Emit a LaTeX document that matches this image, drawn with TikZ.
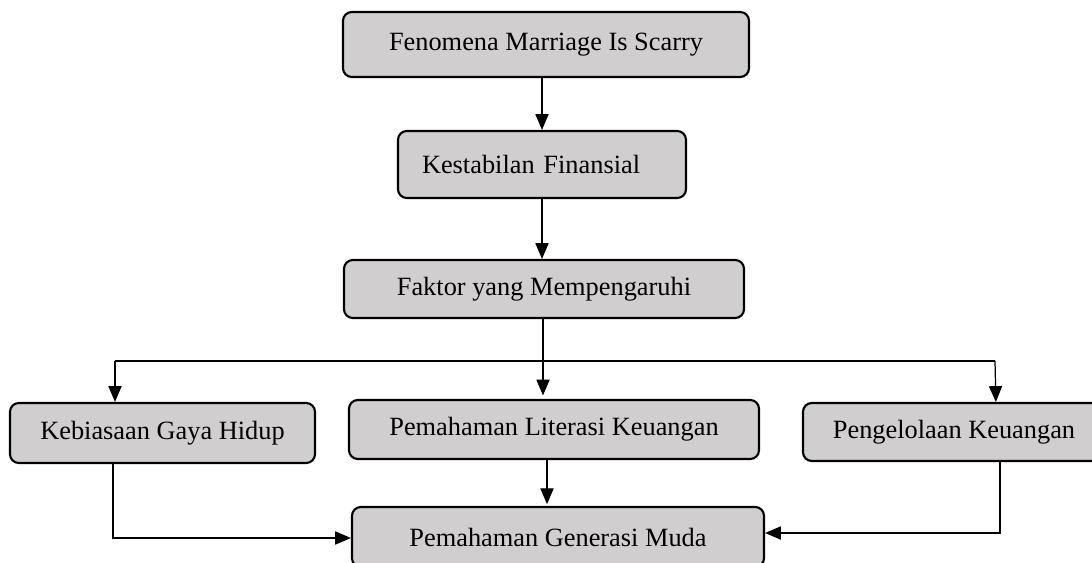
\documentclass[tikz,border=0pt]{standalone}
\usepackage{fontspec}
\setmainfont{Liberation Serif}
\usetikzlibrary{arrows.meta}
\definecolor{boxfill}{RGB}{208,206,207}
\tikzset{
  box/.style={draw=black, line width=1.2pt, fill=boxfill, rounded corners=5pt,
    font=\fontsize{15}{18}\selectfont, inner sep=0pt, anchor=center},
  conn/.style={line width=0.7pt, draw=black},
  arr/.style={conn, -{Triangle[length=9pt,width=7.5pt]}}
}
\begin{document}
\begin{tikzpicture}[x=0.02cm,y=-0.02cm]
\useasboundingbox (0,0) rectangle (1092,563);
\clip (0,0) rectangle (1092,563);
\node[box, minimum width={406*0.02cm}, minimum height={65*0.02cm}] (b1) at (546,44.5) {Fenomena Marriage Is Scarry};
\node[box, minimum width={288*0.02cm}, minimum height={67*0.02cm}, text width={240*0.02cm}, align=left] (b2) at (542,164.5) {Kestabilan Finansial};
\node[box, minimum width={400*0.02cm}, minimum height={58*0.02cm}] (b3) at (544,289) {Faktor yang Mempengaruhi};
\node[box, minimum width={305*0.02cm}, minimum height={60*0.02cm}] (k) at (162.5,433) {Kebiasaan Gaya Hidup};
\node[box, minimum width={410*0.02cm}, minimum height={59*0.02cm}] (l) at (554,429.5) {Pemahaman Literasi Keuangan};
\node[box, minimum width={302*0.02cm}, minimum height={58*0.02cm}] (p) at (954,432) {Pengelolaan Keuangan};
\node[box, minimum width={412*0.02cm}, minimum height={60*0.02cm}] (g) at (558,537) {Pemahaman Generasi Muda};

\coordinate (j) at (543,361);
\coordinate (jl) at (115,361);
\coordinate (jr) at (995,361);
\coordinate (kb) at (113,538);
\coordinate (pb) at (1000,533);

\draw[arr] (b2.north |- b1.south) -- (b2.north);
\draw[arr] (b2.south) -- (b2.south |- b3.north);
\draw[conn] (j |- b3.south) -- (j);
\draw[conn] (jl) -- (jr);
\draw[arr] (jl) -- (jl |- k.north);
\draw[arr] (j) -- ([yshift=2pt]j |- l.north);
\draw[arr] (jr) -- ([xshift=0.5pt]jr |- p.north);
\draw[arr] (547,0 |- l.south) -- ([yshift=1pt]547,0 |- g.north);
\draw[arr] (kb |- k.south) -- (kb) -- (kb -| g.west);
\draw[arr] (pb |- p.south) -- (pb) -- (pb -| g.east);
\end{tikzpicture}
\end{document}
